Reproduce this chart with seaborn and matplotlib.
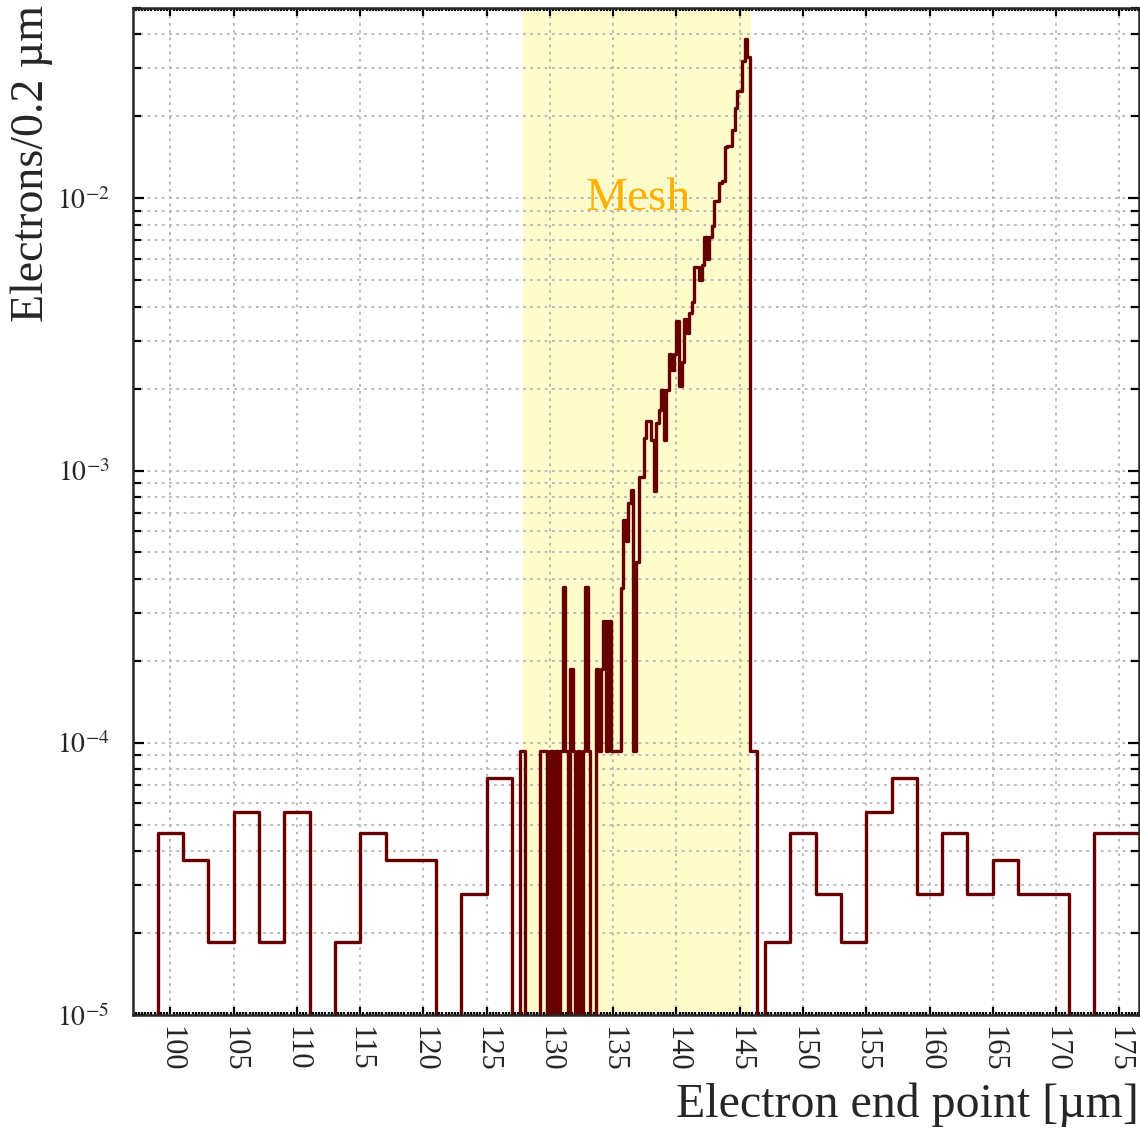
import numpy as np
import pandas as pd
import matplotlib
matplotlib.use("Agg")
import matplotlib.pyplot as plt
import seaborn as sns
from matplotlib.ticker import MultipleLocator, LogLocator, FixedLocator, FixedFormatter, NullFormatter

sns.set_style("ticks")
plt.rcParams["font.family"] = ["Liberation Serif", "DejaVu Serif"]
plt.rcParams["mathtext.fontset"] = "stix"

# bin edges: coarse 2 um bins outside, 0.2 um bins around the mesh
left_edges = np.arange(97, 127.1, 2)
fine_edges = np.round(np.arange(127.0, 147.01, 0.2), 1)
right_edges = np.arange(147, 177.1, 2)

# electrons / 0.2 um
left_vals = [0, 4.65e-5, 3.72e-5, 1.86e-5, 5.58e-5, 1.86e-5, 5.58e-5, 0,
             1.86e-5, 4.65e-5, 3.72e-5, 3.72e-5, 0, 2.79e-5, 7.44e-5]

# 127.0 -> 135.2 (sparse single electrons)
mesh_low = [0, 0, 0, 9.3e-5, 9.3e-5, 0, 0, 0, 0, 0,
            0, 9.3e-5, 9.3e-5, 9.3e-5, 0, 9.3e-5, 0, 9.3e-5, 0, 9.3e-5,
            3.72e-4, 9.3e-5, 0, 1.86e-4, 9.3e-5, 0, 9.3e-5, 0, 9.3e-5, 3.72e-4,
            9.3e-5, 0, 0, 1.86e-4, 9.3e-5, 1.86e-4, 2.79e-4, 9.3e-5, 2.79e-4, 9.3e-5,
            9.3e-5, 9.3e-5]

# 135.4 -> 146.8 (rise towards the mesh)
mesh_rise = [9.3e-5, 3.7e-4, 6.6e-4, 5.5e-4, 7.6e-4, 8.5e-4, 9.3e-5, 4.6e-4,
             9.5e-4, 9.5e-4, 1.32e-3, 1.52e-3, 1.52e-3,
             1.3e-3, 8.4e-4, 1.5e-3, 1.67e-3, 1.97e-3,
             1.29e-3, 1.97e-3, 2.67e-3, 2.35e-3, 2.67e-3,
             3.54e-3, 2.04e-3, 2.5e-3, 3.6e-3, 3.2e-3,
             3.8e-3, 4.15e-3, 5.57e-3, 5.57e-3, 5.0e-3,
             5.7e-3, 7.2e-3, 6.0e-3, 7.2e-3, 7.9e-3,
             9.8e-3, 9.8e-3, 1.14e-2, 1.16e-2, 1.54e-2,
             1.56e-2, 1.56e-2, 1.78e-2, 2.14e-2, 2.47e-2,
             2.47e-2, 3.2e-2, 3.85e-2, 3.3e-2,
             9.3e-5, 9.3e-5, 9.3e-5, 0, 0, 0]

right_vals = [1.86e-5, 4.65e-5, 2.79e-5, 1.86e-5, 5.58e-5, 7.44e-5, 2.79e-5, 4.65e-5,
              2.79e-5, 3.72e-5, 2.79e-5, 2.79e-5, 0, 4.65e-5, 4.65e-5]

mesh_lo, mesh_hi = 127.9, 145.9
ytick_vals = [1e-5, 1e-4, 1e-3, 1e-2]
ytick_text = [r"$10^{-5}$", r"$10^{-4}$", r"$10^{-3}$", r"$10^{-2}$"]

edges = np.concatenate([left_edges, fine_edges[1:], right_edges[1:]])
vals = np.array(left_vals + mesh_low + mesh_rise + right_vals)
df = pd.DataFrame({"x": (edges[:-1] + edges[1:]) / 2, "w": vals})

W, H = 1140, 1132
fig = plt.figure(figsize=(W / 100, H / 100), dpi=100)
ax = fig.add_axes([133 / W, 1 - 1015 / H, (1139 - 133) / W, (1015 - 8) / H])

ax.axvspan(mesh_lo, mesh_hi, color="#fffccc", lw=0, zorder=0.2)
sns.histplot(data=df, x="x", weights="w", bins=list(edges), element="step", fill=False,
             color="#660000", linewidth=2.4, ax=ax, zorder=3)
ax.set_yscale("log")
ax.set_xlim(97.04, 176.56)
ax.set_ylim(1e-5, 0.05)

ax.text(137.0, 1.0e-2, "Mesh", color="#ffb000", fontsize=34, ha="center", va="center")

# ticks
ax.xaxis.set_major_locator(MultipleLocator(5))
ax.xaxis.set_minor_locator(MultipleLocator(0.25))
ax.yaxis.set_major_locator(FixedLocator(ytick_vals))
ax.yaxis.set_major_formatter(FixedFormatter(ytick_text))
ax.yaxis.set_minor_locator(LogLocator(base=10, subs=np.arange(2, 10)))
ax.yaxis.set_minor_formatter(NullFormatter())
ax.tick_params(axis="both", which="both", direction="in", top=True, right=True,
               color="black", width=1.6)
ax.tick_params(axis="x", which="major", length=6, labelsize=22, pad=8, labelrotation=-90)
ax.tick_params(axis="x", which="minor", length=2.5)
ax.tick_params(axis="y", which="major", length=8, labelsize=20, pad=17)
ax.tick_params(axis="y", which="minor", length=6)

ax.set_axisbelow(True)
ax.grid(True, axis="x", which="major", color="#b4b4b4", linestyle=(0, (1.5, 2.5)), linewidth=1.3)
ax.grid(True, axis="y", which="both", color="#b4b4b4", linestyle=(0, (1.5, 2.5)), linewidth=1.3)
for s in ax.spines.values():
    s.set_linewidth(1.8)
    s.set_zorder(4)

ax.set_xlabel("")
ax.set_ylabel("")
fig.text(0.028, 0.996, "Electrons/0.2 µm", rotation=90, ha="center", va="top", fontsize=33)
fig.text(0.999, 0.004, "Electron end point [µm]", ha="right", va="bottom", fontsize=34.5)

fig.savefig("out.png", dpi=100)
